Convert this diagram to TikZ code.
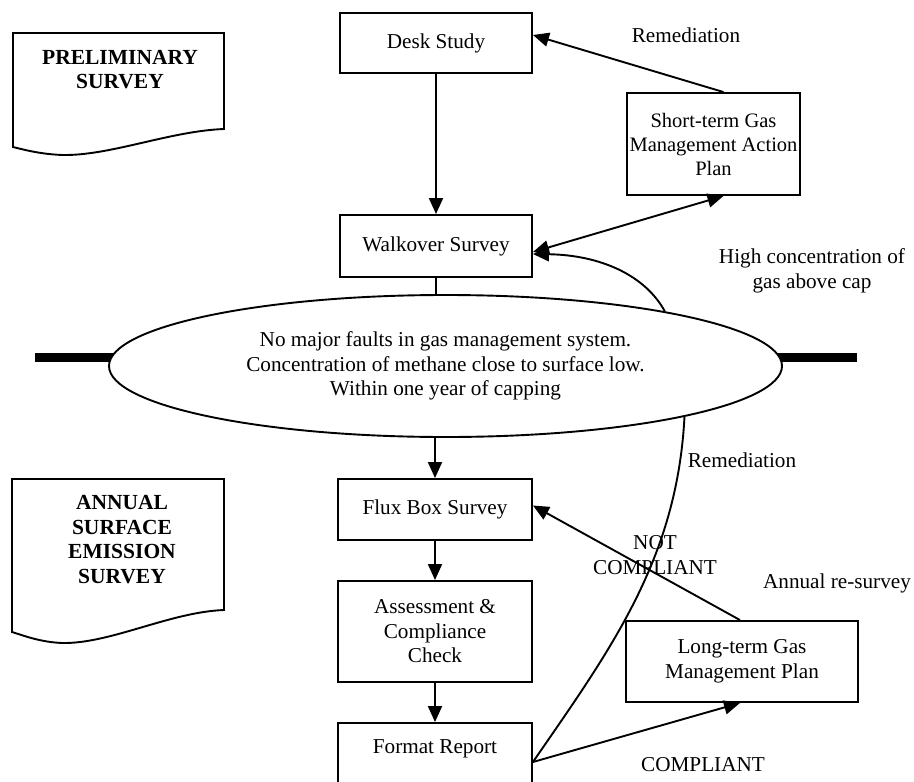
\documentclass[tikz,border=0pt]{standalone}
\usepackage{fontspec}
\setmainfont{Liberation Serif}
\usetikzlibrary{arrows.meta,shapes.geometric}
\begin{document}
\begin{tikzpicture}[x=1pt,y=-1pt,
  font=\fontsize{21.2}{24.5}\selectfont,
  line width=1.9pt,
  >={Triangle[length=16pt,width=14pt]},
  box/.style={draw, rectangle, align=center, inner sep=2pt},
  lbl/.style={align=center, inner sep=0pt},
  doctext/.style={align=center, inner sep=0pt, font=\fontsize{21.5}{24.5}\selectfont\bfseries},
  bar/.style={line width=9pt},
  cloud/.style={draw, ellipse, fill=white, align=center, inner sep=0pt, minimum width=673pt, minimum height=142pt}]
\useasboundingbox (0,0) rectangle (914,782);

% document shapes
\draw (13,33) -- (224,33) -- (224,129) .. controls (170,131) and (110,156) .. (62,155) .. controls (40,154) and (25,150) .. (13,147) -- cycle;
\node[doctext] (d1) at (120,69.5) {PRELIMINARY\\SURVEY};
\draw (12,479) -- (224,479) -- (224,610) .. controls (170,612) and (110,644) .. (62,643) .. controls (40,642) and (25,636) .. (12,632) -- cycle;
\node[doctext] (d2) at (122,539.5) {ANNUAL\\SURFACE\\EMISSION\\SURVEY};

% boxes
\node[box, minimum width=192pt, minimum height=60pt] (ds) at (436,43) {Desk Study};
\node[box, minimum width=192pt, minimum height=62pt] (wk) at (436,246) {Walkover Survey};
\node[box, inner xsep=0pt, minimum width=173pt, minimum height=102pt, font=\fontsize{20.5}{24}\selectfont] (st) at (713.5,144) {Short-term Gas\\Management Action\\Plan};

% bars behind the ellipse
\coordinate (lb) at (35,357);
\coordinate (lbe) at (125,357);
\coordinate (rbe) at (770,357);
\coordinate (rb) at (857,357);
\draw[bar] (lb) -- (lbe);
\draw[bar] (rbe) -- (rb);

\node[cloud] (ell) at (445.5,366) {No major faults in gas management system.\\Concentration of methane close to surface low.\\Within one year of capping};

\node[box, minimum width=194pt, minimum height=61pt] (fx) at (435,509.5) {Flux Box Survey};
\node[box, minimum width=194pt, minimum height=101pt] (as) at (435,631.5) {Assessment \&\\Compliance\\Check};
\node[box, minimum width=194pt, minimum height=66pt] (fr) at (435,756) {\raisebox{18pt}{Format Report}};
\node[box, minimum width=232pt, minimum height=81pt] (lt) at (742,661.5) {Long-term Gas\\Management Plan};

% labels
\node[lbl] (l1) at (686,35) {Remediation};
\node[lbl] (l2) at (812,271) {High concentration of\\gas above cap};
\node[lbl] (l3) at (742,460) {Remediation};
\node[lbl] (l4) at (655,555) {NOT\\COMPLIANT};
\node[lbl] (l5) at (837,583) {Annual re-survey};
\node[lbl] (l6) at (703,765) {COMPLIANT};

% connectors
\draw[->] (ds) -- (wk);
\draw[->] ([xshift=10pt]st.north) -- ([yshift=8pt]ds.east);
\draw[<->] ([yshift=-6pt]wk.east) -- ([xshift=10pt]st.south);
\draw[->] (ell.14.4) .. controls (645,275) and (600,255) .. ([yshift=-8pt]wk.east);
\draw (wk.south) -- (wk.south |- ell.north);
\draw[->] (fx.north |- ell.south) -- (fx.north);
\draw[->] (fx) -- (as);
\draw[->] (as) -- (fr);
\draw (ell.-12.4) .. controls (677,560) and (610,650) .. ([yshift=-6pt]fr.east);
\draw[->] ([yshift=-6pt]fr.east) -- ([xshift=-2pt]lt.south);
\draw[->] ([xshift=-2pt]lt.north) -- ([yshift=4pt]fx.east);
\end{tikzpicture}
\end{document}
